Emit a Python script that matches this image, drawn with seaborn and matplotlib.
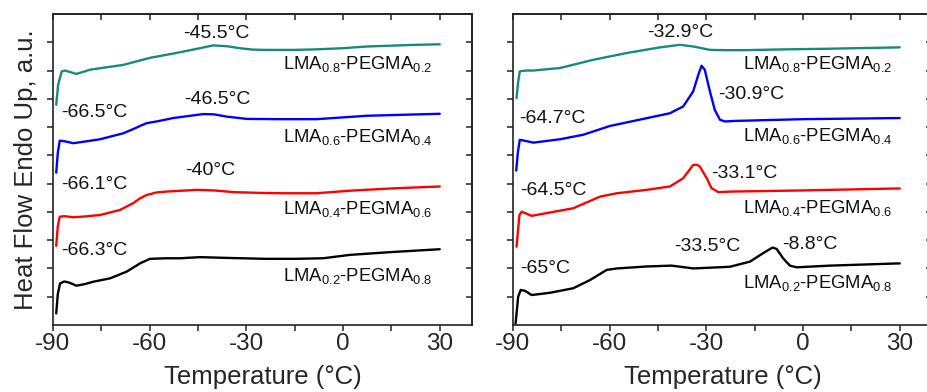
import numpy as np
import pandas as pd
import matplotlib
matplotlib.use("Agg")
import matplotlib.pyplot as plt
import seaborn as sns

# ---------------- data ----------------
samples = ["LMA0.8-PEGMA0.2", "LMA0.6-PEGMA0.4", "LMA0.4-PEGMA0.6", "LMA0.2-PEGMA0.8"]
sample_labels = [r"LMA$_{0.8}$-PEGMA$_{0.2}$", r"LMA$_{0.6}$-PEGMA$_{0.4}$",
                 r"LMA$_{0.4}$-PEGMA$_{0.6}$", r"LMA$_{0.2}$-PEGMA$_{0.8}$"]
colors = ["#178a80", "#0000ff", "#ff0000", "#000000"]

# Left panel
L_teal_T = [-89.0, -88.4, -87.3, -86.3, -82.7, -78.5, -68.2, -59.9, -52.7, -44.4, -40.3, -36, -32, -28, -24, -15, -8.2, 0, 7.3, 20, 30]
L_teal_H = [7.79, 8.5, 8.97, 9.00, 8.88, 9.03, 9.20, 9.45, 9.60, 9.79, 9.89, 9.86, 9.79, 9.74, 9.73, 9.73, 9.75, 9.79, 9.85, 9.90, 9.93]
L_blue_T = [-89.0, -88.5, -87.9, -86.5, -83.7, -80, -75.4, -68.2, -65.1, -63.0, -60.9, -57.8, -52.7, -43.4, -40, -36.1, -29.9, -20, -8.2, 7.3, 20, 30]
L_blue_H = [5.39, 6.1, 6.52, 6.50, 6.43, 6.49, 6.57, 6.78, 6.93, 7.04, 7.14, 7.20, 7.32, 7.46, 7.45, 7.37, 7.29, 7.28, 7.28, 7.40, 7.44, 7.47]
L_red_T = [-89.0, -88.5, -87.9, -86.5, -83.7, -80, -75.4, -69.2, -65.1, -63.0, -60.9, -57.8, -54.7, -45.4, -40, -34, -25, -18.6, -8.2, 2.1, 15, 30]
L_red_H = [2.80, 3.5, 3.83, 3.85, 3.81, 3.84, 3.89, 4.07, 4.31, 4.48, 4.60, 4.69, 4.72, 4.78, 4.76, 4.70, 4.67, 4.66, 4.66, 4.75, 4.83, 4.90]
L_black_T = [-89.0, -88.5, -87.8, -86.5, -85.0, -82.7, -80, -77.5, -72.3, -67.1, -63.0, -59.9, -55, -50.6, -44.4, -35, -24, -15, -6.2, 2.1, 15, 30]
L_black_H = [0.41, 1.1, 1.47, 1.54, 1.50, 1.39, 1.45, 1.53, 1.65, 1.89, 2.18, 2.34, 2.36, 2.36, 2.40, 2.37, 2.34, 2.34, 2.36, 2.48, 2.58, 2.68]

# Right panel
R_teal_T = [-88.9, -88.4, -87.9, -86, -83.7, -75.4, -65.1, -54.7, -44.4, -38.2, -34, -28.9, -24, -18.6, -5, 7.3, 30]
R_teal_H = [8.02, 8.6, 8.97, 9.00, 9.00, 9.09, 9.38, 9.62, 9.82, 9.91, 9.85, 9.73, 9.72, 9.72, 9.75, 9.77, 9.82]
R_blue_T = [-89.0, -88.5, -87.9, -86.5, -83.7, -75.4, -68.2, -59.9, -47.5, -41.3, -37.2, -34.1, -32.5, -31.5, -30.5, -28.9, -27.4, -25.8, -24.3, -20.6, 0, 30]
R_blue_H = [5.46, 6.1, 6.55, 6.52, 6.45, 6.57, 6.73, 7.04, 7.34, 7.49, 7.73, 8.26, 8.85, 9.17, 9.03, 8.26, 7.61, 7.26, 7.20, 7.22, 7.28, 7.32]
R_red_T = [-88.9, -88.0, -87.3, -84.2, -78.5, -71.3, -63.0, -57.8, -48.5, -41.3, -37.2, -34.1, -33.0, -32.0, -29.9, -28.4, -26.3, -22.2, 0, 30]
R_red_H = [2.77, 3.89, 4.01, 3.86, 3.98, 4.13, 4.54, 4.66, 4.78, 4.90, 5.19, 5.66, 5.67, 5.60, 5.19, 4.84, 4.70, 4.72, 4.76, 4.83]
R_black_T = [-89.2, -88.4, -87.6, -86.3, -84.2, -78.5, -71.3, -66.1, -60.9, -57.8, -48.5, -40.8, -34, -22.7, -16.5, -12.4, -9.5, -8.2, -6.2, -4.1, -2.0, 8.3, 30]
R_black_H = [0.05, 1.0, 1.24, 1.21, 1.06, 1.14, 1.30, 1.59, 1.95, 2.00, 2.07, 2.10, 2.00, 2.06, 2.24, 2.54, 2.74, 2.69, 2.36, 2.10, 2.04, 2.10, 2.18]

# Peak / transition temperature annotations
L_notes = ["-45.5°C", "-66.5°C", "-46.5°C", "-66.1°C", "-40°C", "-66.3°C"]
R_notes = ["-32.9°C", "-30.9°C", "-64.7°C", "-33.1°C", "-64.5°C", "-33.5°C", "-8.8°C", "-65°C"]

x_ticks = [-90, -60, -30, 0, 30]
x_minor = [-75, -45, -15, 15]

# ---------------- layout (positions only) ----------------
L_note_pos = [(-39.2, 10.15), (-77.3, 7.35), (-39.05, 7.82), (-77.3, 4.81), (-41.3, 5.29), (-77.3, 2.48)]
R_note_pos = [(-38.0, 10.18), (-16.0, 7.99), (-77.9, 7.14), (-18.1, 5.20), (-77.5, 4.61),
              (-29.6, 2.60), (2.2, 2.68), (-80.1, 1.83)]
L_label_pos = [(-18.7, 9.06), (-18.7, 6.46), (-18.7, 3.94), (-18.7, 1.54)]
R_label_pos = [(-18.6, 9.04), (-18.6, 6.50), (-18.6, 3.96), (-18.6, 1.30)]


def make_df(series):
    frames = []
    for name, T, H in series:
        frames.append(pd.DataFrame({"T": T, "H": H, "sample": name}))
    return pd.concat(frames, ignore_index=True)


left_df = make_df([(samples[0], L_teal_T, L_teal_H), (samples[1], L_blue_T, L_blue_H),
                   (samples[2], L_red_T, L_red_H), (samples[3], L_black_T, L_black_H)])
right_df = make_df([(samples[0], R_teal_T, R_teal_H), (samples[1], R_blue_T, R_blue_H),
                    (samples[2], R_red_T, R_red_H), (samples[3], R_black_T, R_black_H)])

sns.set_theme(style="ticks")
plt.rcParams["font.family"] = ["Liberation Sans", "DejaVu Sans"]
plt.rcParams["mathtext.fontset"] = "custom"
plt.rcParams["mathtext.rm"] = "Liberation Sans"
plt.rcParams["mathtext.it"] = "Liberation Sans"
plt.rcParams["mathtext.bf"] = "Liberation Sans"

fig = plt.figure(figsize=(9.27, 3.92), dpi=100)
W, Hh = 927, 392
axL = fig.add_axes([53 / W, (392 - 325) / Hh, 419 / W, 311 / Hh])
axR = fig.add_axes([513 / W, (392 - 325) / Hh, 419 / W, 311 / Hh])

palette = dict(zip(samples, colors))

for ax, df, notes, note_pos, lab_pos in [
    (axL, left_df, L_notes, L_note_pos, L_label_pos),
    (axR, right_df, R_notes, R_note_pos, R_label_pos),
]:
    sns.lineplot(data=df, x="T", y="H", hue="sample", palette=palette, estimator=None,
                 sort=False, legend=False, linewidth=1.7, ax=ax)
    ax.set_xlim(-90, 40)
    ax.set_ylim(0, 11)
    ax.set_xticks(x_ticks)
    ax.set_xticks(x_minor, minor=True)
    ax.set_xticklabels([str(t) for t in x_ticks])
    ax.set_yticks([1, 3, 5, 7, 9])
    ax.set_yticks([2, 4, 6, 8, 10], minor=True)
    ax.tick_params(axis="y", which="both", labelleft=False, direction="out",
                   length=4, width=1.1, color="#222222")
    ax.tick_params(axis="x", which="both", direction="out", length=4, width=1.1,
                   labelsize=17.5, pad=2, color="#222222")
    for s in ax.spines.values():
        s.set_visible(True)
        s.set_linewidth(1.2)
        s.set_color("#222222")
    # inward ticks on the top and right sides
    top = ax.secondary_xaxis("top")
    top.set_xticks(x_ticks)
    top.set_xticks(x_minor, minor=True)
    top.tick_params(which="both", direction="in", length=4, width=1.1, labeltop=False,
                    color="#222222")
    top.spines["top"].set_linewidth(1.2)
    right = ax.secondary_yaxis("right")
    right.set_yticks([1, 3, 5, 7, 9])
    right.set_yticks([2, 4, 6, 8, 10], minor=True)
    right.tick_params(which="both", direction="in", length=4, width=1.1, labelright=False,
                      color="#222222")
    right.spines["right"].set_linewidth(1.2)

    ax.set_xlabel("Temperature (°C)", fontsize=18.5, labelpad=7)
    ax.set_ylabel("")

    for txt, (x, y) in zip(notes, note_pos):
        ax.text(x, y, txt, fontsize=14, ha="center", va="baseline", color="#111111")
    for txt, (x, y) in zip(sample_labels, lab_pos):
        ax.text(x, y, txt, fontsize=13.3, ha="left", va="baseline", color="#111111")

axL.set_ylabel("Heat Flow Endo Up, a.u.", fontsize=18.5, labelpad=7)

fig.savefig("out.png", dpi=100)
